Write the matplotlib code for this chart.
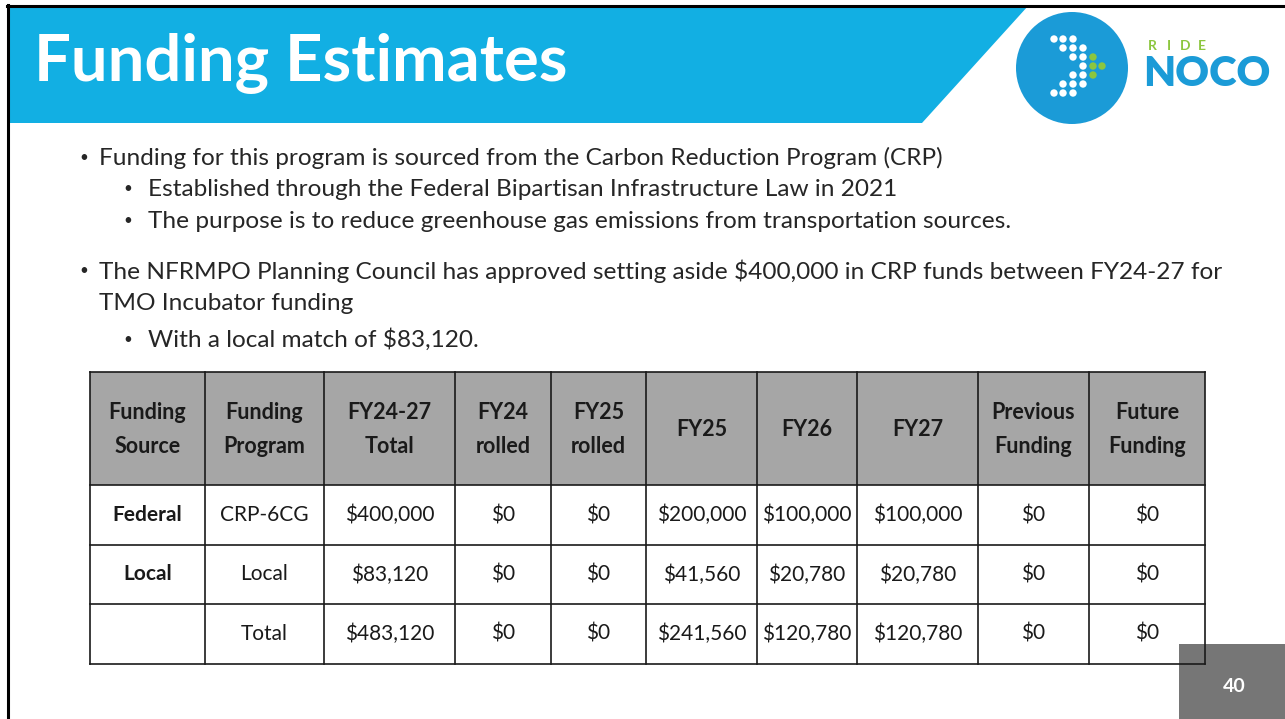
import matplotlib.pyplot as plt
from matplotlib.patches import Rectangle, Polygon, Circle

plt.rcParams['font.family'] = ['Lato', 'DejaVu Sans']

# slide text: (level, text, y, has bullet)
title = 'Funding Estimates'
bullets = [
    (1, 'Funding for this program is sourced from the Carbon Reduction Program (CRP)', 158, True),
    (2, 'Established through the Federal Bipartisan Infrastructure Law in 2021', 189, True),
    (2, 'The purpose is to reduce greenhouse gas emissions from transportation sources.', 221, True),
    (1, 'The NFRMPO Planning Council has approved setting aside $400,000 in CRP funds between FY24-27 for', 271, True),
    (1, 'TMO Incubator funding', 303, False),
    (2, 'With a local match of $83,120.', 340, True),
]

# table data
headers = ['Funding\nSource', 'Funding\nProgram', 'FY24-27\nTotal', 'FY24\nrolled', 'FY25\nrolled',
           'FY25', 'FY26', 'FY27', 'Previous\nFunding', 'Future\nFunding']
sources = ['Federal', 'Local', '']
programs = ['CRP-6CG', 'Local', 'Total']
totals = ['$400,000', '$83,120', '$483,120']
fy24_rolled = ['$0', '$0', '$0']
fy25_rolled = ['$0', '$0', '$0']
fy25 = ['$200,000', '$41,560', '$241,560']
fy26 = ['$100,000', '$20,780', '$120,780']
fy27 = ['$100,000', '$20,780', '$120,780']
previous = ['$0', '$0', '$0']
future = ['$0', '$0', '$0']
page = '40'

col_x = [90, 205, 324, 455, 551, 646, 757, 857, 978, 1089, 1205]
row_y = [372, 485, 545, 604, 664]

fig = plt.figure(figsize=(12.85, 7.19), dpi=100)
ax = fig.add_axes([0, 0, 1, 1])
ax.set_xlim(0, 1285)
ax.set_ylim(719, 0)
ax.axis('off')

# title band
ax.add_patch(Polygon([(8, 6), (1028, 6), (922, 123), (8, 123)], closed=True,
                     facecolor='#12afe3', edgecolor='none'))
ax.plot([8, 8], [5, 719], color='black', lw=2.2)
ax.plot([7, 1285], [6, 6], color='black', lw=2.2)
ax.text(34, 64, title, fontsize=47, fontweight='bold', color='white', va='center', ha='left')

# logo
ax.add_patch(Circle((1072, 68), 56, facecolor='#1b9bd7', edgecolor='none'))
dots_white = [(1054, 39), (1063, 39), (1073, 39),
              (1063, 48), (1073, 48), (1083, 48),
              (1073, 57), (1083, 57),
              (1083, 66),
              (1073, 75), (1083, 75),
              (1063, 84), (1073, 84), (1083, 84),
              (1054, 93), (1063, 93), (1073, 93)]
dots_green = [(1093, 57), (1093, 66), (1102, 66), (1093, 75)]
for x, y in dots_white:
    ax.add_patch(Circle((x, y), 3.7, facecolor='white', edgecolor='none'))
for x, y in dots_green:
    ax.add_patch(Circle((x, y), 3.7, facecolor='#8cc63f', edgecolor='none'))
for i, ch in enumerate('RIDE'):
    ax.text(1152 + i * 16.5, 46, ch, fontsize=10, fontweight='bold', color='#8cc63f',
            va='center', ha='center')
ax.text(1143, 74, 'NOCO', fontsize=30, fontweight='heavy', color='#1b9bd7', va='center', ha='left')

# bullets
for lvl, txt, y, has_bullet in bullets:
    bx = 79 if lvl == 1 else 123
    tx = 99 if lvl == 1 else 148
    if has_bullet:
        ax.text(bx, y, '•', fontsize=11, color='#262626', va='center', ha='left')
    ax.text(tx, y, txt, fontsize=17.6, color='#262626', va='center', ha='left')

# page number box
ax.add_patch(Rectangle((1179, 644), 106, 75, facecolor='#767676', edgecolor='none'))
ax.text(1234, 686, page, fontsize=14, fontweight='bold', color='white', va='center', ha='center')

# table
ax.add_patch(Rectangle((col_x[0], row_y[0]), col_x[-1] - col_x[0], row_y[1] - row_y[0],
                       facecolor='#a6a6a6', edgecolor='none'))
for i, h in enumerate(headers):
    cx = (col_x[i] + col_x[i + 1]) / 2
    ax.text(cx, (row_y[0] + row_y[1]) / 2 + 1, h, fontsize=15.5, fontweight='bold', color='#1a1a1a',
            ha='center', va='center', linespacing=1.75)

columns = [sources, programs, totals, fy24_rolled, fy25_rolled, fy25, fy26, fy27, previous, future]
for r in range(3):
    cy = (row_y[r + 1] + row_y[r + 2]) / 2
    for c, col in enumerate(columns):
        cx = (col_x[c] + col_x[c + 1]) / 2
        ax.text(cx, cy, col[r], fontsize=15, color='#1a1a1a', ha='center', va='center',
                fontweight='bold' if c == 0 else 'normal')

for x in col_x:
    ax.plot([x, x], [row_y[0], row_y[-1]], color='#1a1a1a', lw=1.2)
for y in row_y:
    ax.plot([col_x[0], col_x[-1]], [y, y], color='#1a1a1a', lw=1.2)

fig.savefig('out.png', dpi=100)
